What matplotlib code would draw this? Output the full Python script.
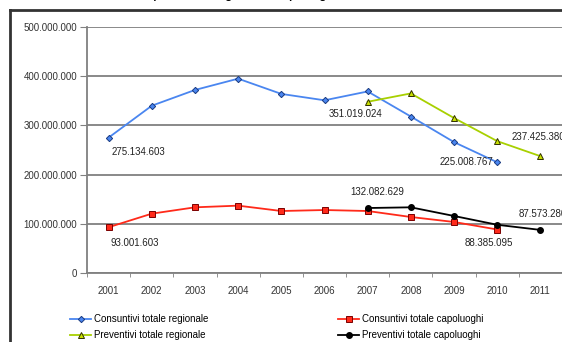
import numpy as np
import matplotlib
matplotlib.use('Agg')
from matplotlib import pyplot as plt
from matplotlib.lines import Line2D
from matplotlib.ticker import FuncFormatter

plt.rcParams['font.family'] = ['Liberation Sans', 'DejaVu Sans']

anni = ['2001', '2002', '2003', '2004', '2005', '2006', '2007', '2008', '2009', '2010', '2011']
cons_regionale = [275134603, 340e6, 372e6, 395e6, 364e6, 351019024, 369e6, 318e6, 266e6, 225008767, np.nan]
cons_capoluoghi = [93001603, 120.6e6, 133.5e6, 136.9e6, 126e6, 128e6, 126e6, 113.8e6, 103.7e6, 88385095, np.nan]
prev_regionale = [np.nan] * 6 + [348e6, 365e6, 315e6, 268e6, 237425380]
prev_capoluoghi = [np.nan] * 6 + [132082629, 133.5e6, 115.9e6, 98e6, 87573280]

# etichette: (serie, indice anno, testo, offset in pixel, allineamento)
etichette = [
    (cons_regionale, 0, '275.134.603', (3, -14), 'left'),
    (cons_capoluoghi, 0, '93.001.603', (2, -16), 'left'),
    (cons_regionale, 5, '351.019.024', (4, -14), 'left'),
    (cons_regionale, 9, '225.008.767', (-4, 0), 'right'),
    (prev_capoluoghi, 6, '132.082.629', (10, 16), 'center'),
    (cons_capoluoghi, 9, '88.385.095', (-8, -13), 'center'),
    (prev_capoluoghi, 10, '87.573.280', (-22, 16), 'left'),
    (prev_regionale, 10, '237.425.380', (-29, 19), 'left'),
]

W, H = 562, 342
fig = plt.figure(figsize=(W / 100, H / 100), dpi=100)
ax = fig.add_axes([87 / W, 1 - 273 / H, 475 / W, 246 / H])

x = np.arange(len(anni))
ax.plot(x, cons_regionale, color='#4a86f0', lw=1.3, marker='D', ms=3.2,
        mfc='#4a86f0', mec='#1a3a80', mew=0.7, label='Consuntivi totale regionale')
ax.plot(x, cons_capoluoghi, color='#ff2a1a', lw=1.3, marker='s', ms=4,
        mfc='#ff2a1a', mec='#7a0000', mew=0.7, label='Consuntivi totale capoluoghi')
ax.plot(x, prev_regionale, color='#a8d000', lw=1.3, marker='^', ms=4.5,
        mfc='#c8e000', mec='#303000', mew=0.7, label='Preventivi totale regionale')
ax.plot(x, prev_capoluoghi, color='black', lw=1.3, marker='o', ms=4,
        mfc='black', mec='black', label='Preventivi totale capoluoghi')

for serie, i, testo, off, ha in etichette:
    ax.annotate(testo, (x[i], serie[i]), xytext=off, textcoords='offset pixels',
                ha=ha, va='center', fontsize=7, color='#222222', annotation_clip=False)

ax.set_xlim(-0.5, len(anni) - 0.5)
ax.set_ylim(0, 500e6)
ax.set_yticks(np.arange(0, 501e6, 100e6))
ax.yaxis.set_major_formatter(FuncFormatter(lambda v, p: f'{int(v):,}'.replace(',', '.')))
ax.set_xticks(x)
ax.set_xticklabels(anni)
ax.set_xticks(np.arange(-0.5, len(anni)), minor=True)
ax.tick_params(axis='x', which='major', length=0, pad=9, labelsize=7, labelcolor='#333333')
ax.tick_params(axis='x', which='minor', length=3, color='#808080', direction='out')
ax.tick_params(axis='y', length=5, color='#808080', pad=2, labelsize=7, labelcolor='#333333')
ax.grid(axis='y', color='#808080', lw=1.3)
ax.set_axisbelow(True)
for s in ['top', 'right']:
    ax.spines[s].set_visible(False)
for s in ['left', 'bottom']:
    ax.spines[s].set_color('#808080')
    ax.spines[s].set_linewidth(1.3)

# cornice del grafico (tagliata dall'immagine)
fig.add_artist(Line2D([10 / W, 10 / W], [0, 1 - 10 / H], color='#333333', lw=2))
fig.add_artist(Line2D([10 / W, 1], [1 - 10 / H, 1 - 10 / H], color='#333333', lw=2))
fig.text(336 / W, 1 + 1 / H, 'Spesa totale regionale e capoluoghi', ha='right', va='baseline',
         fontsize=8, fontweight='bold')

h, l = ax.get_legend_handles_labels()
fig.legend([h[0], h[2]], [l[0], l[2]], loc='upper left', bbox_to_anchor=(70 / W, 1 - 314 / H),
           frameon=False, fontsize=7, handlelength=2.2, handletextpad=0.3, labelspacing=0.65,
           borderaxespad=0, borderpad=0)
fig.legend([h[1], h[3]], [l[1], l[3]], loc='upper left', bbox_to_anchor=(338 / W, 1 - 314 / H),
           frameon=False, fontsize=7, handlelength=2.2, handletextpad=0.3, labelspacing=0.65,
           borderaxespad=0, borderpad=0)

fig.savefig('out.png', dpi=100)
